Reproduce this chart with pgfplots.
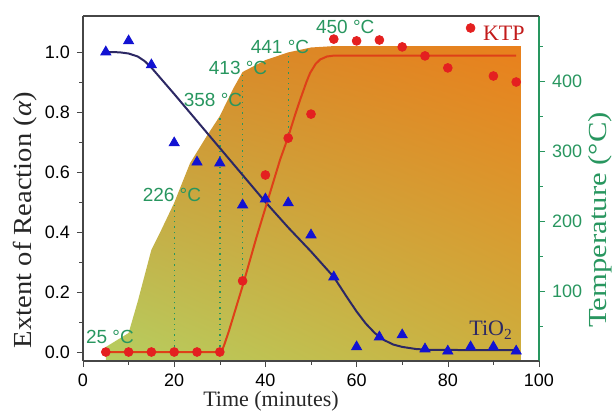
\documentclass[border=0pt]{standalone}
\usepackage{fontspec}
\setmainfont{Liberation Sans}
\newfontfamily\serif{Liberation Serif}
\usepackage{graphicx}
\usepackage{pgfplots}
\pgfplotsset{compat=1.18}
\usetikzlibrary{shadings}
\definecolor{tempgreen}{RGB}{40,150,95}
\definecolor{ktpred}{RGB}{228,32,32}
\definecolor{ktpline}{RGB}{222,64,24}
\definecolor{tiblue}{RGB}{18,18,210}
\definecolor{tiline}{RGB}{44,40,100}
\definecolor{axgray}{RGB}{70,70,70}
\definecolor{gLL}{RGB}{182,206,96}
\definecolor{gLR}{RGB}{205,175,62}
\definecolor{gUL}{RGB}{210,140,45}
\definecolor{gUR}{RGB}{233,128,28}

\begin{document}
\begin{tikzpicture}
\pgfplotsset{every axis/.append style={
    scale only axis, width=228pt, height=172.5pt,
    xmin=0, xmax=100,
    tick align=outside, major tick length=3pt, minor tick length=1.8pt,
    /pgf/number format/assume math mode=true,
    tick label style={font=\fontsize{9}{10}\selectfont}}}

% temperature axis first, so the shaded area sits behind the data
\begin{axis}[name=temp,
    axis x line=none, axis y line*=right,
    ymin=0, ymax=493,
    ytick={100,200,300,400}, minor ytick={50,150,250,350,450},
    y axis line style={tempgreen, line width=0.8pt},
    ytick style={tempgreen}, yticklabel style={tempgreen}]
\addplot[draw=none, lower left=gLL, lower right=gLR, upper left=gUL, upper right=gUR]
  coordinates {(5,20) (10,40) (12,85) (15,159) (17,185) (20,226) (23.5,283)
               (27,320) (30,350) (33,390) (35,413) (40,430) (45,441)
               (50,448) (55,450) (96,450)} \closedcycle;
\addplot[tempgreen, dotted, line width=0.7pt] coordinates {(20,13) (20,226)};
\addplot[tempgreen, dotted, line width=0.7pt] coordinates {(30,13) (30,350)};
\addplot[tempgreen, dotted, line width=0.7pt] coordinates {(35,114) (35,413)};
\addplot[tempgreen, dotted, line width=0.7pt] coordinates {(45,318) (45,441)};
\end{axis}

\begin{axis}[name=main,
    axis x line*=bottom, axis y line*=left,
    ymin=-0.03, ymax=1.12,
    xtick={0,20,40,60,80,100}, minor xtick={10,30,50,70,90},
    ytick={0,0.2,0.4,0.6,0.8,1.0}, minor ytick={0.1,0.3,0.5,0.7,0.9},
    yticklabel style={/pgf/number format/.cd, fixed, fixed zerofill, precision=1},
    axis line style={axgray, line width=0.8pt}, tick style={axgray},
    clip=false]
% fitted curves
\addplot[tiline, line width=1pt] coordinates {
  (5,1.0) (8,0.999) (10,0.995) (12,0.985) (13.5,0.97) (15,0.948) (20,0.86)
  (25,0.77) (30,0.68) (35,0.59) (40,0.5) (45,0.415) (50,0.335) (55,0.25)
  (58,0.18) (60,0.135) (62,0.095) (64,0.063) (66,0.04) (68,0.025) (70,0.017)
  (73,0.01) (76,0.007) (95,0.006)};
\addplot[ktpline, line width=1pt] coordinates {
  (5,0) (30,0) (30.5,0.005) (31,0.025) (32,0.07) (35,0.22) (38,0.38) (40,0.48)
  (42,0.58) (43.2,0.64) (45,0.717) (46.5,0.79) (47.6,0.84) (49,0.9) (49.8,0.93)
  (51,0.96) (52,0.975) (53.5,0.985) (55,0.988) (95,0.988)};
% TiO2
\addplot[only marks, mark=triangle*, mark size=2.9pt, tiblue] coordinates {
  (5,1.00) (10,1.037) (15,0.957) (20,0.697) (25,0.633) (30,0.63) (35,0.49)
  (40,0.51) (45,0.497) (50,0.39) (55,0.25) (60,0.017) (65,0.05) (70,0.057)
  (75,0.01) (80,0.003) (85,0.017) (90,0.017) (95,0.003)};
% KTP
\addplot[only marks, mark=*, mark size=2.2pt, ktpred] coordinates {
  (5,0) (10,0) (15,0) (20,0) (25,0) (30,0) (35,0.237) (40,0.59) (45,0.713)
  (50,0.793) (55,1.043) (60,1.037) (65,1.04) (70,1.017) (75,0.987) (80,0.947)
  (85,1.08) (90,0.92) (95,0.9)};
\begin{scope}[every node/.style={tempgreen, font=\fontsize{9.5}{11}\selectfont}]
\node at (axis cs:5.9,0.05) {25 °C};
\node at (axis cs:19.5,0.523) {226 °C};
\node at (axis cs:28.5,0.84) {358 °C};
\node at (axis cs:34,0.947) {413 °C};
\node at (axis cs:43.2,1.017) {441 °C};
\node at (axis cs:57.5,1.083) {450 °C};
\end{scope}
\node[text=ktpred!85!black, font=\serif\fontsize{11}{12}\selectfont] at (axis cs:92.3,1.063) {KTP};
\node[text=tiline, font=\serif\fontsize{11}{12}\selectfont] at (axis cs:89.5,0.073) {TiO\textsubscript{2}};
\end{axis}

\draw[axgray, line width=0.8pt] (main.north west) -- (main.north east);
\node[text=black!85, font=\serif\fontsize{11}{12}\selectfont]
  at ([shift={(94pt,-20pt)}]main.south west) {Time (minutes)};
\node[rotate=90, text=black!85, font=\serif\fontsize{13}{14}\selectfont]
  at ([shift={(-29pt,70.5pt)}]main.south west) {\scalebox{1.1}[1]{Extent of Reaction (\textit{α})}};
\node[rotate=90, text=tempgreen, font=\serif\fontsize{13}{14}\selectfont]
  at ([shift={(30.5pt,70.5pt)}]main.south east) {\scalebox{1.18}[1]{Temperature (°C)}};

\pgfresetboundingbox
\path ([shift={(-41.5pt,-26.5pt)}]main.south west) rectangle ([shift={(36.5pt,8pt)}]main.north east);
\end{tikzpicture}
\end{document}
